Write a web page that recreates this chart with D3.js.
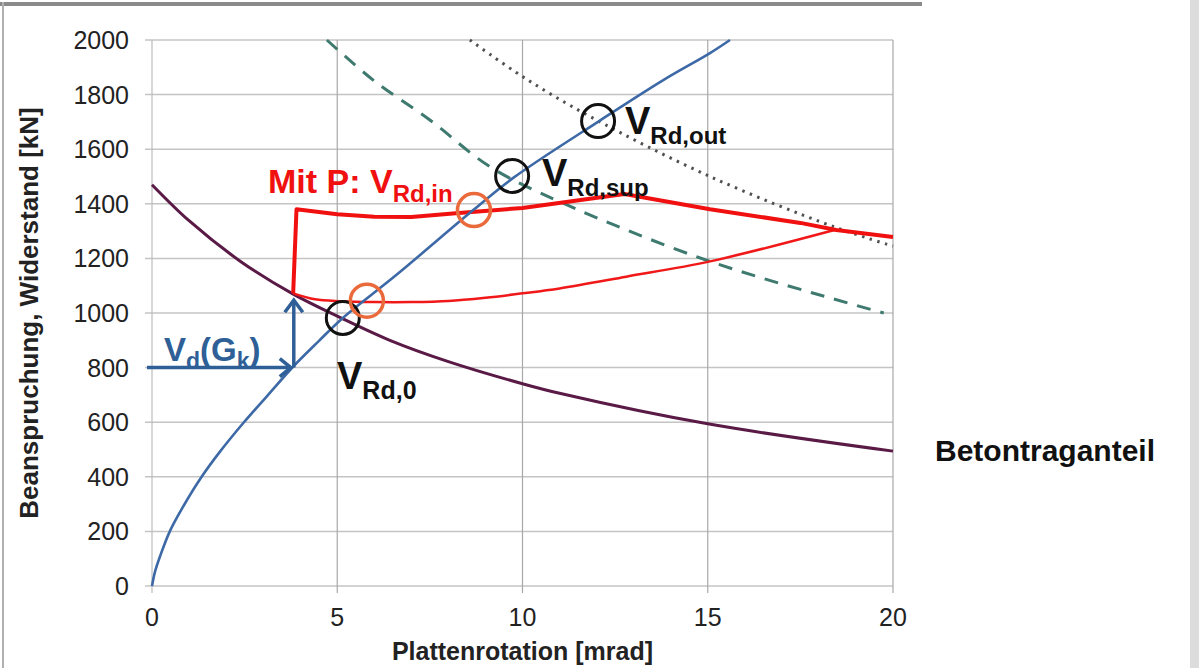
<!DOCTYPE html>
<html>
<head>
<meta charset="utf-8">
<script src="https://cdn.jsdelivr.net/npm/d3@7"></script>
<style>
  body { margin: 0; background: #fff; }
  svg { display: block; font-family: "Liberation Sans", Arial, sans-serif; }
</style>
</head>
<body>
<div class="chart"></div>
<script>
const width = 1199
const height = 668
const plot = { left: 152, right: 893, top: 40, bottom: 586 }

const xTicks = [0, 5, 10, 15, 20]
const yTicks = [0, 200, 400, 600, 800, 1000, 1200, 1400, 1600, 1800, 2000]

// Last-Rotations-Kurve (blau)
const loadCurve = [[0, 0], [0.08, 52], [0.22, 110], [0.49, 203], [0.85, 293], [1.34, 400], [1.84, 493],
  [2.47, 598], [3.1, 695], [3.82, 805], [4.5, 897], [5.15, 982], [6.6, 1140], [8.67, 1377],
  [9.75, 1495], [12.09, 1705], [13.8, 1853], [15.06, 1952], [15.6, 2000]]
// Betontraganteil (violett)
const concrete = [[0, 1470], [1, 1338], [2.4, 1188], [3.8, 1070], [5.07, 984], [6.42, 900], [8, 822],
  [10, 741], [11, 706], [15, 594], [20, 494]]
// V_Rd,sup (gestrichelt)
const supCurve = [[4.72, 2000], [6, 1850], [7.5, 1707], [9.12, 1536], [11, 1408], [15.06, 1189], [19.75, 1000]]
// V_Rd,out (gepunktet)
const outCurve = [[8.58, 2000], [10, 1866], [11.82, 1720], [15.06, 1500], [18.4, 1316], [20, 1245]]
// Mit P: V_Rd,in (rot, dick)
const withP = [[3.81, 1072], [3.9, 1380], [5, 1362], [6, 1353], [7, 1352], [8.2, 1365], [10, 1385],
  [12.75, 1436], [15.06, 1380], [17.5, 1330], [18.47, 1304], [20, 1278]]
// rot, dünn
const withPLower = [[3.81, 1072], [4.4, 1050], [5.1, 1043], [6, 1040], [7, 1040], [8, 1044], [9, 1056],
  [10, 1072], [11, 1090], [12.8, 1133], [15.06, 1189], [18.47, 1306]]

const vdGk = 800
const psiGk = 3.8
const blackMarks = [[5.15, 982], [9.72, 1502], [12.04, 1703]]
const orangeMarks = [[5.8, 1045], [8.69, 1377]]

const svg = d3.select(".chart").append("svg")
  .attr("width", width)
  .attr("height", height)

// Rahmen wie im Original
svg.append("rect").attr("x", 0).attr("y", 2).attr("width", 922).attr("height", 4).attr("fill", "#8a8a8a")
svg.append("rect").attr("x", 2).attr("y", 2).attr("width", 2).attr("height", height).attr("fill", "#b0b0b0")
svg.append("rect").attr("x", 1190).attr("y", 0).attr("width", 9).attr("height", height).attr("fill", "#dcdcdc")

const x = d3.scaleLinear().domain([0, 20]).range([plot.left, plot.right])
const y = d3.scaleLinear().domain([0, 2000]).range([plot.bottom, plot.top])

// Gitter
svg.append("g").selectAll("line").data(yTicks).join("line")
  .attr("x1", x(0) - 7).attr("x2", x(20))
  .attr("y1", d => y(d)).attr("y2", d => y(d))
  .attr("stroke", "#c4c4c4").attr("stroke-width", 1.5)
svg.append("g").selectAll("line").data(xTicks).join("line")
  .attr("x1", d => x(d)).attr("x2", d => x(d))
  .attr("y1", y(2000)).attr("y2", y(0) + 7)
  .attr("stroke", d => d === 0 ? "#bdbdbd" : "#a8a8a8").attr("stroke-width", 1.2)

// Achsenbeschriftung
svg.append("g").selectAll("text").data(yTicks).join("text")
  .attr("x", x(0) - 23).attr("y", d => y(d) + 9)
  .attr("text-anchor", "end").attr("font-size", 25).attr("fill", "#222")
  .text(d => d)
svg.append("g").selectAll("text").data(xTicks).join("text")
  .attr("x", d => x(d)).attr("y", y(0) + 40)
  .attr("text-anchor", "middle").attr("font-size", 25).attr("fill", "#222")
  .text(d => d)

svg.append("text")
  .attr("x", (x(0) + x(20)) / 2).attr("y", 660)
  .attr("text-anchor", "middle").attr("font-size", 25).attr("font-weight", "bold").attr("fill", "#222")
  .text("Plattenrotation [mrad]")
svg.append("text")
  .attr("transform", `translate(38,${(y(0) + y(2000)) / 2}) rotate(-90)`)
  .attr("text-anchor", "middle").attr("font-size", 26).attr("font-weight", "bold").attr("fill", "#222")
  .text("Beanspruchung, Widerstand [kN]")

const smooth = d3.line().x(d => x(d[0])).y(d => y(d[1])).curve(d3.curveCatmullRom)
const straight = d3.line().x(d => x(d[0])).y(d => y(d[1]))

svg.append("path").datum(supCurve).attr("d", smooth)
  .attr("fill", "none").attr("stroke", "#3e7a6f").attr("stroke-width", 3).attr("stroke-dasharray", "14,10")
svg.append("path").datum(outCurve).attr("d", smooth)
  .attr("fill", "none").attr("stroke", "#505050").attr("stroke-width", 3)
  .attr("stroke-dasharray", "2.5,5.5")
svg.append("path").datum(concrete).attr("d", smooth)
  .attr("fill", "none").attr("stroke", "#5a1a46").attr("stroke-width", 3)
svg.append("path").datum(withPLower).attr("d", smooth)
  .attr("fill", "none").attr("stroke", "#f01818").attr("stroke-width", 2.5)
svg.append("path").datum(withP).attr("d", straight)
  .attr("fill", "none").attr("stroke", "#f01010").attr("stroke-width", 4).attr("stroke-linejoin", "round")
svg.append("path").datum(loadCurve).attr("d", smooth)
  .attr("fill", "none").attr("stroke", "#3d69a6").attr("stroke-width", 2.6)

// Pfeile V_d(G_k)
const arrowColor = "#2f5f97"
const ax = x(psiGk) + 1
const ay = y(vdGk)
const tipY = y(1065) + 5
const arrows = svg.append("g").attr("stroke", arrowColor).attr("stroke-width", 3.5).attr("fill", "none")
arrows.append("line").attr("x1", 147).attr("x2", ax - 3).attr("y1", ay).attr("y2", ay)
arrows.append("path").attr("d", `M${ax - 14},${ay - 9} L${ax - 3},${ay} L${ax - 14},${ay + 9}`)
arrows.append("line").attr("x1", ax).attr("x2", ax).attr("y1", ay).attr("y2", tipY)
arrows.append("path").attr("d", `M${ax - 9},${tipY + 12} L${ax},${tipY} L${ax + 9},${tipY + 12}`)

// Kreise
svg.append("g").selectAll("circle").data(blackMarks).join("circle")
  .attr("cx", d => x(d[0])).attr("cy", d => y(d[1])).attr("r", 16.5)
  .attr("fill", "none").attr("stroke", "#111").attr("stroke-width", 3)
svg.append("g").selectAll("circle").data(orangeMarks).join("circle")
  .attr("cx", d => x(d[0])).attr("cy", d => y(d[1])).attr("r", 16.5)
  .attr("fill", "none").attr("stroke", "#ea6a3c").attr("stroke-width", 3.5)

// Beschriftungen mit Index
function label(px, py, main, sub, color, size, subSize, extra) {
  const t = svg.append("text").attr("x", px).attr("y", py)
    .attr("font-weight", "bold").attr("fill", color).attr("font-size", size)
  const shift = size * 0.25
  t.append("tspan").text(main)
  t.append("tspan").attr("font-size", subSize).attr("dy", shift).text(sub)
  if (extra) {
    extra.forEach(e => {
      t.append("tspan").attr("font-size", e.sub ? subSize : size)
        .attr("dy", e.sub ? shift : -shift).text(e.text)
    })
  }
  return t
}

label(337, 389, "V", "Rd,0", "#111", 38, 25)
label(542, 186, "V", "Rd,sup", "#111", 38, 24)
label(625, 134, "V", "Rd,out", "#111", 38, 24)
label(268, 193, "Mit P: V", "Rd,in", "#f01010", 34, 24)
label(164, 361, "V", "d", arrowColor, 33, 23, [
  { text: "(G" },
  { text: "k", sub: true },
  { text: ")" }
])

svg.append("text").attr("x", 935).attr("y", 461)
  .attr("font-size", 30).attr("font-weight", "bold").attr("fill", "#111")
  .text("Betontraganteil")
</script>
</body>
</html>
